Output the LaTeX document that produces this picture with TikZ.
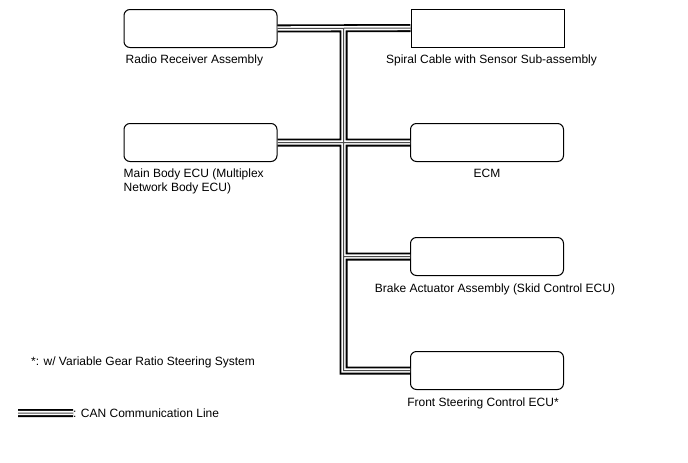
\documentclass[tikz,border=0pt]{standalone}
\usepackage{fontspec}
\setmainfont{Liberation Sans}
\usepackage{tikz}
\usetikzlibrary{positioning}

\begin{document}
\begin{tikzpicture}[x=1pt, y=-1pt,
                    font=\fontsize{12}{14}\selectfont,
                    unit/.style={draw, line width=1pt, rounded corners=6pt,
                                 minimum width=153pt, minimum height=38pt},
                    squareunit/.style={unit, sharp corners},
                    caption/.style={inner sep=0pt, align=left}]
  \useasboundingbox (0,0) rectangle (688,463);

  \node[unit] (radio) at (200.5,28.5) {};
  \node[unit] (main) at (200.5,142.5) {};
  \node[squareunit] (spiral) at (487.5,28) {};
  \node[unit] (ecm) at (487,142.5) {};
  \node[unit] (brake) at (487,256.5) {};
  \node[unit] (steer) at (487,370.5) {};

  \node[caption, below right=7pt and 2pt of radio.south west] (radiotext) {Radio Receiver Assembly};
  \node[caption, below right=7pt and 0pt of main.south west] (maintext) {Main Body ECU (Multiplex\\Network Body ECU)};
  \node[caption, below=7pt of spiral, xshift=4pt] (spiraltext) {Spiral Cable with Sensor Sub-assembly};
  \node[caption, below=7pt of ecm] (ecmtext) {ECM};
  \node[caption, below=8pt of brake, xshift=8pt] (braketext) {Brake Actuator Assembly (Skid Control ECU)};
  \node[caption, below=8pt of steer, xshift=-4pt] (steertext) {Front Steering Control ECU*};

  \node[caption, anchor=west] (note) at (31,362) {*: w/ Variable Gear Ratio Steering System};
  \coordinate (legA) at (18,413);
  \node[caption, anchor=west] (legtext) at (73,413) {: CAN Communication Line};

  \coordinate (busx) at (343.5,0);
  \foreach \w/\c in {8/black, 4.4/white, 1/black!70} {
    \draw[line width=\w pt, draw=\c] (radio.east) -- (spiral.west)
      (main.east) -- (ecm.west)
      (busx |- radio.east) |- (steer.west)
      (busx |- brake.west) -- (brake.west)
      (legA) -- (legtext.west);
  }
\end{tikzpicture}
\end{document}
